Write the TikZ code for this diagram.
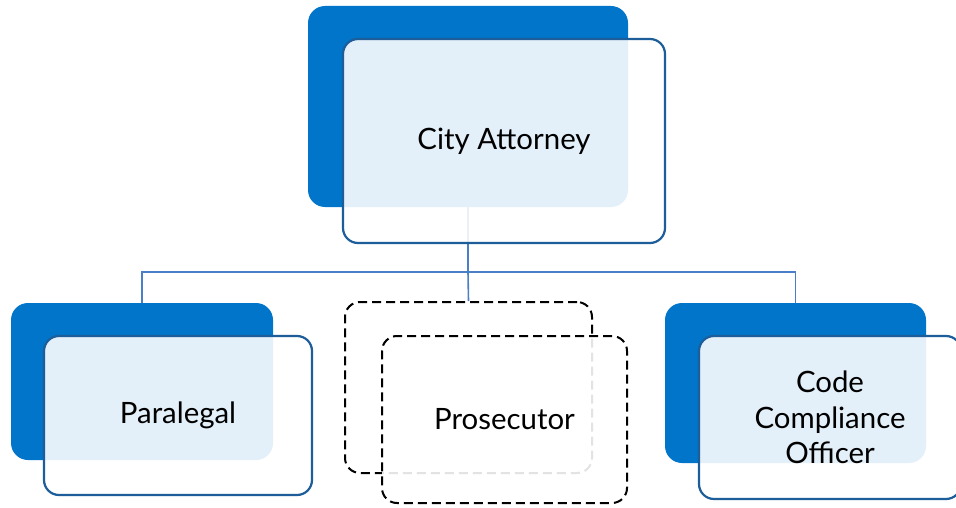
\documentclass[tikz,border=0pt]{standalone}
\usepackage{fontspec}
\setmainfont{Lato}
\definecolor{backblue}{HTML}{0075C9}
\definecolor{frontline}{HTML}{1D5D99}
\definecolor{conn}{HTML}{4A7EC6}
\begin{document}
\begin{tikzpicture}[x=1pt,y=-1pt,
  backbox/.style={rectangle,rounded corners=17pt,fill=backblue,draw=none,inner sep=0pt},
  frontbox/.style={rectangle,rounded corners=15pt,draw=frontline,line width=2.2pt,fill=white,fill opacity=0.89,text opacity=1,inner sep=0pt,font=\fontsize{29.4}{35.5}\selectfont,align=center,text=black},
  dashback/.style={rectangle,rounded corners=15pt,draw=black,line width=2pt,dash pattern=on 9pt off 5pt,inner sep=0pt},
  dashfront/.style={rectangle,rounded corners=15pt,draw=black,line width=2pt,dash pattern=on 9pt off 5pt,fill=white,fill opacity=0.89,text opacity=1,inner sep=0pt,font=\fontsize{29.4}{35.5}\selectfont,align=center,text=black},
  connector/.style={draw=conn,line width=1.6pt}]
\useasboundingbox (0,0) rectangle (956,508);
\clip (0,0) rectangle (956,508);
% back boxes
\node[backbox,minimum width=320pt,minimum height=201pt] (caback) at (468,106.5) {};
\node[backbox,minimum width=262pt,minimum height=157pt] (paraback) at (142,381.5) {};
\node[dashback,minimum width=247pt,minimum height=171pt] (prosback) at (468.5,387.5) {};
\node[backbox,minimum width=261pt,minimum height=160pt] (codeback) at (795.5,383) {};
% connectors
\coordinate (hub) at (468,272);
\draw[connector] (caback.south) -- (hub);
\draw[connector] (hub) -| (paraback.north);
\draw[connector] (hub) -| (codeback.north);
\draw[connector] (hub) -- (prosback.north);
% front boxes
\node[frontbox,minimum width=322pt,minimum height=204pt] (cafront) at (504,141) {City Attorney};
\node[frontbox,minimum width=268pt,minimum height=159pt] (parafront) at (178,415.5) {Paralegal};
\node[dashfront,minimum width=245pt,minimum height=167pt] (prosfront) at (504.5,419.5) {Prosecutor};
\node[frontbox,minimum width=262pt,minimum height=163pt] (codefront) at (830,417.5) {Code\\Compliance\\Officer};
\end{tikzpicture}
\end{document}
